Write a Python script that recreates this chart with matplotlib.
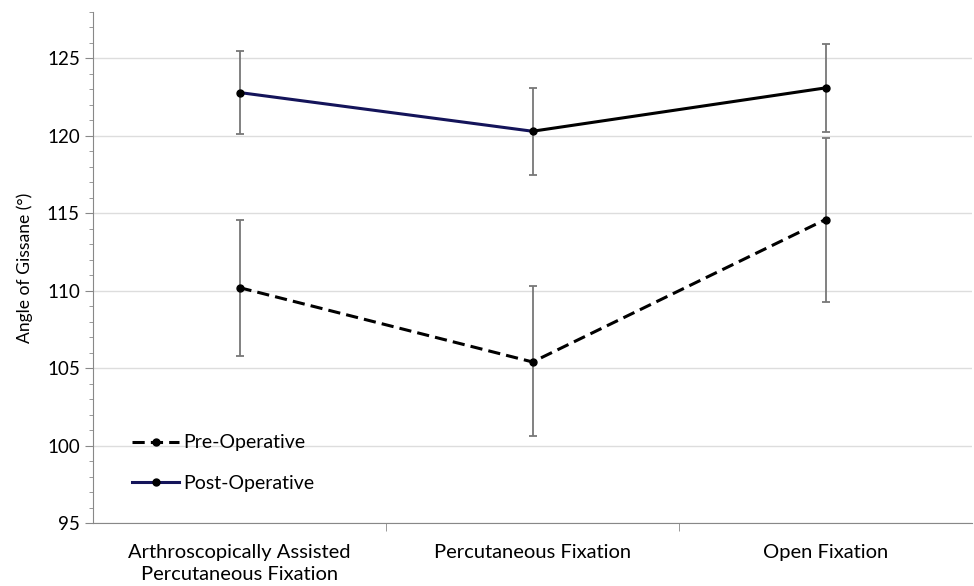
import numpy as np
import matplotlib.pyplot as plt
from matplotlib.ticker import MultipleLocator, FixedLocator
from matplotlib.lines import Line2D

categories = ['Arthroscopically Assisted\nPercutaneous Fixation', 'Percutaneous Fixation', 'Open Fixation']
pre_mean = [110.2, 105.4, 114.6]
pre_low = [105.8, 100.6, 109.3]
pre_high = [114.6, 110.3, 119.85]
post_mean = [122.8, 120.3, 123.1]
post_low = [120.1, 117.5, 120.25]
post_high = [125.5, 123.1, 125.95]

plt.rcParams['font.family'] = ['Lato', 'DejaVu Sans']

fig = plt.figure(figsize=(9.74, 5.86), dpi=100)
ax = fig.add_axes([0.0955, 0.1075, 0.9025, 0.872])
x = np.arange(len(categories))

navy = '#14145a'
ecol = '#777777'
dash = (0, (4, 2))

pre_err = [np.array(pre_mean) - np.array(pre_low), np.array(pre_high) - np.array(pre_mean)]
post_err = [np.array(post_mean) - np.array(post_low), np.array(post_high) - np.array(post_mean)]

ax.errorbar(x, pre_mean, yerr=pre_err, fmt='none', ecolor=ecol, elinewidth=1.3, capsize=3, capthick=1.3, zorder=2)
ax.errorbar(x, post_mean, yerr=post_err, fmt='none', ecolor=ecol, elinewidth=1.3, capsize=3, capthick=1.3, zorder=2)

ax.plot(x, pre_mean, color='black', linestyle=dash, linewidth=2.2, marker='o', markersize=5, zorder=3)
ax.plot(x[:2], post_mean[:2], color=navy, linewidth=2.2, zorder=3)
ax.plot(x[1:], post_mean[1:], color='black', linewidth=2.2, zorder=3)
ax.plot(x, post_mean, linestyle='none', color='black', marker='o', markersize=5, zorder=4)

ax.set_xlim(-0.5, 2.5)
ax.set_ylim(95, 128)
ax.yaxis.set_major_locator(FixedLocator([95, 100, 105, 110, 115, 120, 125]))
ax.yaxis.set_minor_locator(MultipleLocator(1))
ax.grid(axis='y', color='#dddddd', linewidth=1)
ax.set_axisbelow(True)

ax.set_xticks(x)
ax.set_xticklabels(categories, fontsize=14.5, linespacing=1.35)
ax.tick_params(axis='x', length=0, pad=15)
ax.set_xticks([0.5, 1.5], minor=True)
ax.tick_params(axis='x', which='minor', length=6, color='#888888')
ax.tick_params(axis='y', which='major', length=6, color='#888888', labelsize=13.5)
ax.tick_params(axis='y', which='minor', length=3, color='#888888')

for s in ['top', 'right']:
    ax.spines[s].set_visible(False)
ax.spines['left'].set_color('#888888')
ax.spines['bottom'].set_color('#888888')

ax.set_ylabel('Angle of Gissane (°)', fontsize=12.6, labelpad=10)

handles = [
    Line2D([], [], color='black', linestyle=dash, linewidth=2.2, marker='o', markersize=5),
    Line2D([], [], color=navy, linewidth=2.2, marker='o', markersize=5, markerfacecolor='black', markeredgecolor='black'),
]
ax.legend(handles, ['Pre-Operative', 'Post-Operative'], loc='lower left', bbox_to_anchor=(0.025, 0.027),
          frameon=False, fontsize=14, handlelength=2.4, handletextpad=0.2, labelspacing=1.2)

fig.savefig('out.png', dpi=100)
